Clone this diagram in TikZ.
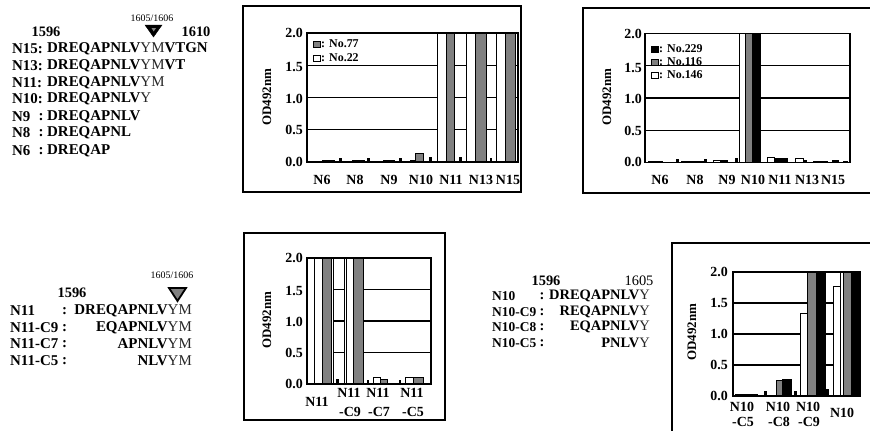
\documentclass[tikz,border=0pt]{standalone}
\usepackage{fontspec}
\setmainfont{Liberation Serif}
\newcommand\lt[1]{{\mdseries\color{black!85}#1}}
\newcommand\bb[4]{\draw[#4] (#1,\YB) rectangle (#2,{\YB-(#3)*\YS});}
\tikzset{
  frame/.style={line width=1.3bp},
  axisbox/.style={line width=1.4bp},
  gridl/.style={line width=1.3bp},
  wbar/.style={draw=black, fill=white, line width=0.8bp},
  hbar/.style={draw=black, fill=black!50, line width=0.8bp},
  kbar/.style={draw=black, fill=black, line width=0.8bp},
  seq/.style={font=\fontsize{15}{15}\selectfont\bfseries, inner sep=0pt, anchor=west},
  seqe/.style={font=\fontsize{15}{15}\selectfont\bfseries, inner sep=0pt, anchor=east},
  seqs/.style={font=\fontsize{14.5}{14.5}\selectfont\bfseries, inner sep=0pt, anchor=west},
  seql/.style={font=\fontsize{13.5}{13.5}\selectfont\bfseries, inner sep=0pt, anchor=west},
  seqse/.style={font=\fontsize{14.5}{14.5}\selectfont\bfseries, inner sep=0pt, anchor=east},
  num/.style={font=\fontsize{14.5}{14.5}\selectfont\bfseries, inner sep=0pt},
  small/.style={font=\fontsize{10}{10}\selectfont, inner sep=0pt},
  tick/.style={font=\fontsize{14}{14}\selectfont\bfseries, inner sep=0pt, anchor=east},
  xl/.style={font=\fontsize{14}{14}\selectfont\bfseries, inner sep=0pt},
  yl/.style={font=\fontsize{13}{13}\selectfont\bfseries, inner sep=0pt, rotate=90},
  leg/.style={font=\fontsize{12}{12}\selectfont\bfseries, inner sep=0pt, anchor=west},
}
\begin{document}
\begin{tikzpicture}[x=1bp,y=-1bp]
\useasboundingbox (0,0) rectangle (870,430);
\fill[white] (0,0) rectangle (870,430);

% ---------- Panel 1 text ----------
\node[small] (t1pos) at (152,18) {1605/1606};
\draw[fill=black] (145,25) -- (162,25) -- (153.5,37) -- cycle;
\fill[black!50] (151.5,28) -- (156,28) -- (153.7,31.5) -- cycle;
\node[num] (t1a) at (46,32) {1596};
\node[num] (t1b) at (196,32) {1610};
\node[seq] (l15) at (12,49) {N15:};
\node[seq] (s15) at (47,49) {DREQAPNLV\lt{YM}VTGN};
\node[seq] (l13) at (12,66) {N13:};
\node[seq] (s13) at (47,66) {DREQAPNLV\lt{YM}VT};
\node[seq] (l11) at (12,83) {N11:};
\node[seq] (s11) at (47,83) {DREQAPNLV\lt{YM}};
\node[seq] (l10) at (12,99) {N10:};
\node[seq] (s10) at (47,99) {DREQAPNLV\lt{Y}};
\node[seq] (l9) at (12,117) {N9};
\node[seq] (c9) at (38.5,117) {:};
\node[seq] (s9) at (47,117) {DREQAPNLV};
\node[seq] (l8) at (12,133) {N8};
\node[seq] (c8) at (38.5,133) {:};
\node[seq] (s8) at (47,133) {DREQAPNL};
\node[seq] (l6) at (12,151) {N6};
\node[seq] (c6) at (38.5,151) {:};
\node[seq] (s6) at (47,151) {DREQAP};

% ---------- Panel 3 text ----------
\node[small] (t3pos) at (172,275) {1605/1606};
\draw[hbar, line width=1.8bp] (169,288) -- (186,288) -- (177.5,301) -- cycle;
\node[num] (t3a) at (72,293) {1596};
\node[seq] (m1) at (10,311) {N11};
\node[seq] (mc1) at (62,311) {:};
\node[seqe] (ms1) at (192,311) {DREQAPNLV\lt{YM}};
\node[seq] (m2) at (10,328) {N11-C9};
\node[seq] (mc2) at (62,328) {:};
\node[seqe] (ms2) at (192,328) {EQAPNLV\lt{YM}};
\node[seq] (m3) at (10,344) {N11-C7};
\node[seq] (mc3) at (62,344) {:};
\node[seqe] (ms3) at (192,344) {APNLV\lt{YM}};
\node[seq] (m4) at (10,361) {N11-C5};
\node[seq] (mc4) at (62,361) {:};
\node[seqe] (ms4) at (192,361) {NLV\lt{YM}};

% ---------- Panel 4 text ----------
\node[num] (t4a) at (546,281) {1596};
\node[num,font=\fontsize{14.5}{14.5}\selectfont] (t4b) at (639,281) {1605};
\node[seql] (k1) at (492,296) {N10};
\node[seqs] (kc1) at (539.5,296) {:};
\node[seqse] (ks1) at (650,296) {DREQAPNLV\lt{Y}};
\node[seql] (k2) at (492,312) {N10-C9};
\node[seqs] (kc2) at (539.5,312) {:};
\node[seqse] (ks2) at (650,312) {REQAPNLV\lt{Y}};
\node[seql] (k3) at (492,327) {N10-C8};
\node[seqs] (kc3) at (539.5,327) {:};
\node[seqse] (ks3) at (650,327) {EQAPNLV\lt{Y}};
\node[seql] (k4) at (492,343) {N10-C5};
\node[seqs] (kc4) at (539.5,343) {:};
\node[seqse] (ks4) at (650,343) {PNLV\lt{Y}};

% ---------- Chart A ----------
\draw[frame] (243,6) rectangle (521,192);
\def\YB{162}\def\YS{64.5}
\foreach \v in {0.5,1,1.5} \draw[gridl] (307,{\YB-\v*\YS}) -- (518,{\YB-\v*\YS});
\bb{322}{328}{0.02}{wbar}\bb{328}{334}{0.03}{hbar}\bb{339.5}{341}{0.06}{kbar}
\bb{352}{358}{0.02}{wbar}\bb{358}{364}{0.02}{hbar}\bb{367.5}{369}{0.06}{kbar}
\bb{383}{388}{0.03}{wbar}\bb{388}{394}{0.03}{hbar}\bb{399.5}{401}{0.06}{kbar}
\bb{410}{415}{0.02}{wbar}\bb{415}{423}{0.13}{hbar}\bb{429.5}{431}{0.07}{kbar}
\bb{437}{446}{2}{wbar}\bb{446}{454}{2}{hbar}\bb{459.5}{461}{0.07}{kbar}
\bb{466}{475}{2}{wbar}\bb{475}{486}{2}{hbar}\bb{490}{491.5}{0.05}{kbar}
\bb{496}{505}{2}{wbar}\bb{505}{515}{2}{hbar}
\draw[axisbox] (307,{\YB-2*\YS}) rectangle (518,\YB);
\node[tick] (a20) at (303,33) {2.0};
\node[tick] (a15) at (303,67) {1.5};
\node[tick] (a10) at (303,99) {1.0};
\node[tick] (a05) at (303,130) {0.5};
\node[tick] (a00) at (303,162) {0.0};
\node[yl] (ay) at (267,97) {OD492nm};
\node[xl] (ax1) at (322,180) {N6};
\node[xl] (ax2) at (355,180) {N8};
\node[xl] (ax3) at (389,180) {N9};
\node[xl] (ax4) at (421,180) {N10};
\node[xl] (ax5) at (451,180) {N11};
\node[xl] (ax6) at (481,180) {N13};
\node[xl] (ax7) at (508,180) {N15};
\draw[hbar] (313,41) rectangle (320,47);
\node[leg] (alg1) at (321,44) {: No.77};
\draw[wbar] (313,55) rectangle (320,61);
\node[leg] (alg2) at (321,58) {: No.22};

% ---------- Chart B ----------
\draw[frame] (876,8) -- (583,8) -- (583,193) -- (876,193);
\def\YB{162.5}\def\YS{64.5}
\foreach \v in {0.5,1,1.5} \draw[gridl] (645,{\YB-\v*\YS}) -- (850,{\YB-\v*\YS});
\bb{648}{655}{0.02}{wbar}\bb{655}{662}{0.02}{kbar}\bb{676.5}{678}{0.05}{kbar}
\bb{681}{692}{0.02}{wbar}\bb{692}{703}{0.02}{kbar}\bb{704.5}{706}{0.05}{kbar}
\bb{713}{720}{0.03}{wbar}\bb{720}{727}{0.04}{kbar}\bb{735.5}{737}{0.06}{kbar}
\bb{739}{745}{2}{wbar}\bb{745}{752}{2}{hbar}\bb{752}{760}{2}{kbar}
\bb{767}{774}{0.08}{wbar}\bb{774}{787}{0.07}{kbar}
\bb{795}{803}{0.07}{wbar}\bb{803}{806}{0.03}{kbar}
\bb{813}{827}{0.02}{kbar}\bb{832}{838}{0.04}{kbar}\bb{843}{847}{0.02}{kbar}
\draw[axisbox] (645,{\YB-2*\YS}) rectangle (850,\YB);
\node[tick] (b20) at (642,34) {2.0};
\node[tick] (b15) at (642,68) {1.5};
\node[tick] (b10) at (642,99) {1.0};
\node[tick] (b05) at (642,131) {0.5};
\node[tick] (b00) at (642,162) {0.0};
\node[yl] (by) at (607,97) {OD492nm};
\node[xl] (bx1) at (660,180) {N6};
\node[xl] (bx2) at (695,180) {N8};
\node[xl] (bx3) at (727,180) {N9};
\node[xl] (bx4) at (753,180) {N10};
\node[xl] (bx5) at (780,180) {N11};
\node[xl] (bx6) at (807,180) {N13};
\node[xl] (bx7) at (833,180) {N15};
\draw[kbar] (651,46) rectangle (658,52);
\node[leg] (blg1) at (659,49) {: No.229};
\draw[hbar] (651,59) rectangle (658,65);
\node[leg] (blg2) at (659,62) {: No.116};
\draw[wbar] (651,72) rectangle (658,78);
\node[leg] (blg3) at (659,75) {: No.146};

% ---------- Chart C ----------
\draw[frame] (244,233) rectangle (445,420);
\def\YB{384}\def\YS{63}
\foreach \v in {0.5,1,1.5} \draw[gridl] (307,{\YB-\v*\YS}) -- (431,{\YB-\v*\YS});
\bb{307}{314}{2}{wbar}\bb{314}{322}{2}{wbar}\bb{322}{331}{2}{hbar}\bb{331}{333}{2}{wbar}
\bb{336}{338}{0.07}{kbar}
\bb{344}{346}{2}{wbar}\bb{346}{353}{2}{wbar}\bb{353}{363}{2}{hbar}
\bb{367}{368.5}{0.06}{kbar}\bb{373}{380}{0.1}{wbar}\bb{380}{387}{0.07}{hbar}
\bb{399}{400.5}{0.06}{kbar}\bb{405}{413}{0.1}{wbar}\bb{413}{423}{0.1}{hbar}
\draw[axisbox] (307,{\YB-2*\YS}) rectangle (431,\YB);
\node[tick] (c20) at (303,258) {2.0};
\node[tick] (c15) at (303,291) {1.5};
\node[tick] (c10) at (303,322) {1.0};
\node[tick] (c05) at (303,353) {0.5};
\node[tick] (c00) at (303,384) {0.0};
\node[yl] (cy) at (267,320) {OD492nm};
\node[xl] (cx1) at (317,402) {N11};
\node[xl] (cx2) at (349,393) {N11};
\node[xl] (cx2b) at (350,412) {-C9};
\node[xl] (cx3) at (378,393) {N11};
\node[xl] (cx3b) at (379,412) {-C7};
\node[xl] (cx4) at (412,393) {N11};
\node[xl] (cx4b) at (413,412) {-C5};

% ---------- Chart D ----------
\draw[frame] (672,440) -- (672,243) -- (876,243);
\def\YB{396}\def\YS{62}
\foreach \v in {0.5,1,1.5} \draw[gridl] (733,{\YB-\v*\YS}) -- (860,{\YB-\v*\YS});
\bb{735}{745}{0.02}{wbar}\bb{745}{757}{0.03}{kbar}\bb{764.5}{766}{0.07}{kbar}
\bb{776}{782}{0.25}{hbar}\bb{782}{791}{0.27}{kbar}\bb{794.5}{796}{0.08}{kbar}
\bb{800}{807}{1.33}{wbar}\bb{807}{816}{2}{hbar}\bb{816}{825}{2}{kbar}
\bb{826.5}{828}{0.1}{kbar}
\bb{833}{840}{1.77}{wbar}\bb{840}{843}{2}{wbar}\bb{843}{851}{2}{hbar}\bb{851}{859}{2}{kbar}
\draw[axisbox] (733,{\YB-2*\YS}) rectangle (860,\YB);
\node[tick] (d20) at (728,272) {2.0};
\node[tick] (d15) at (728,303) {1.5};
\node[tick] (d10) at (728,334) {1.0};
\node[tick] (d05) at (728,365) {0.5};
\node[tick] (d00) at (728,396) {0.0};
\node[yl] (dy) at (692,332) {OD492nm};
\node[xl] (dx1) at (742,407) {N10};
\node[xl] (dx1b) at (743,422) {-C5};
\node[xl] (dx2) at (778,407) {N10};
\node[xl] (dx2b) at (779,422) {-C8};
\node[xl] (dx3) at (808,407) {N10};
\node[xl] (dx3b) at (809,422) {-C9};
\node[xl] (dx4) at (842,413) {N10};
\end{tikzpicture}
\end{document}
